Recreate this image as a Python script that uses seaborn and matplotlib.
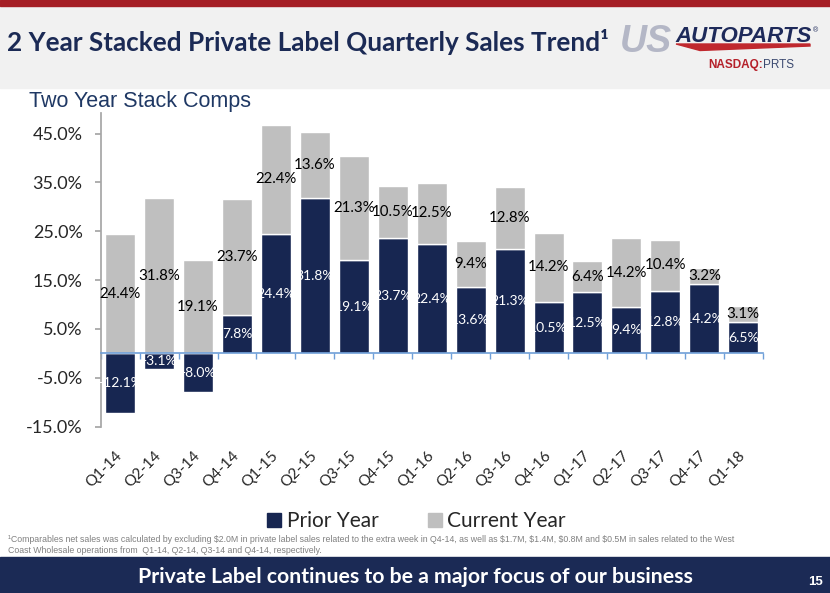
import numpy as np
import pandas as pd
import matplotlib.pyplot as plt
import seaborn as sns
from matplotlib.lines import Line2D
from matplotlib.patches import Rectangle, Polygon

# chart data
quarters = ['Q1-14', 'Q2-14', 'Q3-14', 'Q4-14', 'Q1-15', 'Q2-15', 'Q3-15', 'Q4-15', 'Q1-16',
            'Q2-16', 'Q3-16', 'Q4-16', 'Q1-17', 'Q2-17', 'Q3-17', 'Q4-17', 'Q1-18']
prior_year = [-12.1, -3.1, -8.0, 7.8, 24.4, 31.8, 19.1, 23.7, 22.4, 13.6, 21.3, 10.5, 12.5, 9.4, 12.8, 14.2, 6.5]
current_year = [24.4, 31.8, 19.1, 23.7, 22.4, 13.6, 21.3, 10.5, 12.5, 9.4, 12.8, 14.2, 6.4, 14.2, 10.4, 3.2, 3.1]
y_ticks = [-15, -5, 5, 15, 25, 35, 45]

df = pd.DataFrame({'Quarter': quarters, 'Prior': prior_year, 'Current': current_year})
# current year stacks on top of positive prior-year values, from zero otherwise
df['Base'] = df['Prior'].clip(lower=0)

NAVY = '#172651'
GRAY = '#bfbfbf'
W, H = 830, 593


def px(x, y):
    return x / W, 1 - y / H


sns.set_theme(style='white')
plt.rcParams['font.family'] = ['Lato', 'DejaVu Sans']

fig = plt.figure(figsize=(8.3, 5.93), dpi=100)

# slide decoration: red stripe, header band, footer band
fig.add_artist(Rectangle(px(0, 88), 1, 82 / H, transform=fig.transFigure, color='#f1f1f1', zorder=0))
fig.add_artist(Rectangle(px(0, 6), 1, 6 / H, transform=fig.transFigure, color='#a51e25', zorder=0))
fig.add_artist(Rectangle((0, 0), 1, 36 / H, transform=fig.transFigure, color='#1b2a55', zorder=0))

ax = fig.add_axes([100.7 / W, 1 - 426.7 / H, 662 / W, (426.7 - 113) / H])

sns.barplot(data=df, x='Quarter', y='Prior', color=NAVY, width=0.77, saturation=1,
            errorbar=None, ax=ax)
sns.barplot(data=df, x='Quarter', y='Current', bottom=df['Base'].to_numpy(), color=GRAY,
            width=0.77, saturation=1, errorbar=None, ax=ax)

ax.bar_label(ax.containers[0], fmt='{:.1f}%', label_type='center', color='white', fontsize=10)
ax.bar_label(ax.containers[1], fmt='{:.1f}%', label_type='center', color='black', fontsize=10.8)

ax.set_ylim(-15, 49.2)
ax.set_yticks(y_ticks)
ax.set_yticklabels([f'{v:.1f}%' for v in y_ticks], fontsize=13)
ax.set_xlabel('')
ax.set_ylabel('')

ax.set_xticks(range(len(quarters)))
ax.set_xticklabels(quarters, fontsize=13)
ax.set_xticks(np.arange(-0.5, len(quarters), 1), minor=True)

for s in ['right', 'bottom']:
    ax.spines[s].set_visible(False)
ax.spines['top'].set_position(('data', 0))
ax.spines['top'].set_color('#6f9fd8')
ax.spines['top'].set_linewidth(1.2)
ax.spines['left'].set_color('#a6a6a6')

ax.tick_params(axis='x', which='major', length=0, pad=19, top=False, bottom=False)
ax.tick_params(axis='x', which='minor', length=4, top=True, bottom=False, direction='in',
               color='#6f9fd8', labeltop=False, labelbottom=False)
ax.tick_params(axis='y', left=True, length=4, color='#a6a6a6', pad=9)
plt.setp(ax.get_xticklabels(), rotation=45, ha='right', va='center', rotation_mode='anchor')

handles = [Line2D([], [], marker='s', ls='', color=NAVY, markersize=10),
           Line2D([], [], marker='s', ls='', color=GRAY, markersize=10)]
fig.legend(handles, ['Prior Year', 'Current Year'], loc='center', bbox_to_anchor=px(415, 521),
           ncol=2, frameon=False, fontsize=15, handletextpad=0.1, columnspacing=2.2,
           handlelength=1)

# header texts
fig.text(*px(7, 42), '2 Year Stacked Private Label Quarterly Sales Trend\u00b9', fontsize=18.8,
         fontweight='bold', color='#1b2a55', va='center', ha='left')
fig.text(*px(29, 102), 'Two Year Stack Comps', fontsize=15.5, color='#1f3864',
         family='Liberation Sans', va='center', ha='left')

# logo
fig.text(*px(620, 42), 'US', fontsize=27, fontweight='bold', style='italic', color='#b4b7c6',
         family='Liberation Sans', va='center', ha='left')
fig.text(*px(675, 36), 'AUTOPARTS', fontsize=16, fontweight='bold', style='italic',
         color='#1e2a5a', family='Liberation Sans', va='center', ha='left')
fig.text(*px(813, 31), '\u00ae', fontsize=5, color='#1e2a5a', family='Liberation Sans',
         va='center', ha='left')
fig.add_artist(Polygon([px(676, 44), px(810, 44), px(810, 46), px(700, 50.5)],
                       closed=True, transform=fig.transFigure, color='#c0282e'))
fig.text(*px(763, 65), 'NASDAQ:', fontsize=8.5, fontweight='bold', color='#b5202a',
         family='Liberation Sans', va='center', ha='right')
fig.text(*px(763, 65), 'PRTS', fontsize=8.5, color='#3c4a70', family='Liberation Sans',
         va='center', ha='left')

# footnote and footer
fig.text(*px(8, 545), '\u00b9Comparables net sales was calculated by excluding \\$2.0M in private label sales '
         'related to the extra week in Q4-14, as well as \\$1.7M, \\$1.4M, \\$0.8M and \\$0.5M in sales '
         'related to the West\nCoast Wholesale operations from  Q1-14, Q2-14, Q3-14 and Q4-14, respectively.',
         fontsize=6.3, color='#808080', family='Liberation Sans', va='center', ha='left',
         linespacing=1.25)
fig.text(*px(415, 577), 'Private Label continues to be a major focus of our business', fontsize=15.3,
         fontweight='bold', color='white', va='center', ha='center')
fig.text(*px(815, 582), '15', fontsize=9.5, fontweight='bold', color='white',
         family='Liberation Sans', va='center', ha='center')

fig.savefig('out.png', dpi=100)
